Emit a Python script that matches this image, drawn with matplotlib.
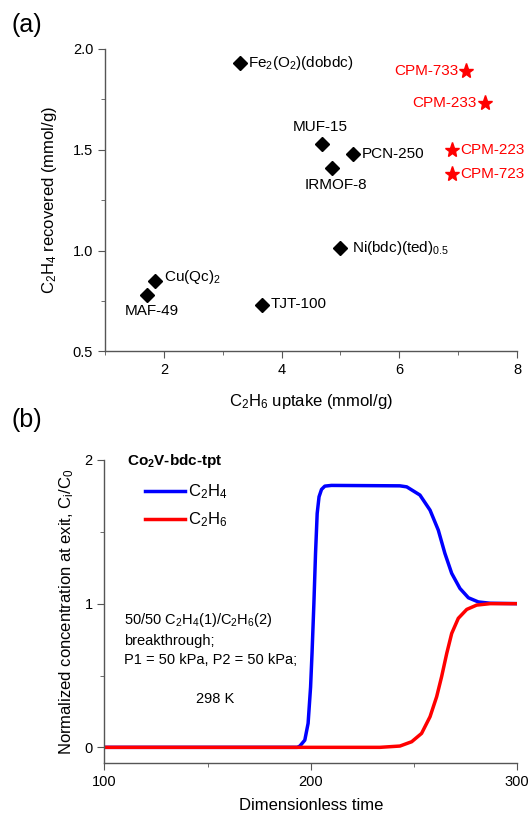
import matplotlib
matplotlib.use('Agg')
import matplotlib.pyplot as plt
from matplotlib.ticker import MultipleLocator, FormatStrFormatter

plt.rcParams['font.family'] = ['Liberation Sans', 'DejaVu Sans']
plt.rcParams['mathtext.fontset'] = 'custom'
plt.rcParams['mathtext.rm'] = 'Liberation Sans'
plt.rcParams['mathtext.it'] = 'Liberation Sans:italic'
plt.rcParams['mathtext.bf'] = 'Liberation Sans:bold'
plt.rcParams['mathtext.default'] = 'regular'

# (a) literature MOFs
mof_names = [r'Fe$_2$(O$_2$)(dobdc)', 'MUF-15', 'PCN-250', 'IRMOF-8',
             r'Ni(bdc)(ted)$_{0.5}$', r'Cu(Qc)$_2$', 'MAF-49', 'TJT-100']
mof_uptake = [3.30, 4.69, 5.21, 4.86, 5.00, 1.85, 1.72, 3.66]
mof_recovered = [1.93, 1.53, 1.48, 1.41, 1.01, 0.85, 0.78, 0.73]

# (a) CPM series
cpm_names = ['CPM-733', 'CPM-233', 'CPM-223', 'CPM-723']
cpm_uptake = [7.13, 7.45, 6.90, 6.90]
cpm_recovered = [1.89, 1.73, 1.50, 1.38]

# (b) breakthrough curves, Co2V-bdc-tpt
t_c2h4 = [100, 193.5, 194.7, 197.1, 198.7, 199.9, 200.6, 201.5, 202.3, 203.1, 204.0,
          205.2, 206.8, 210.0, 243.2, 246.5, 252.9, 257.8, 261.8, 265.0, 268.3,
          272.3, 276.4, 281.2, 286.9, 300]
c_c2h4 = [0, 0, 0.009, 0.05, 0.167, 0.42, 0.654, 1.0, 1.35, 1.628, 1.744,
          1.795, 1.818, 1.823, 1.82, 1.813, 1.756, 1.651, 1.512, 1.35, 1.211,
          1.106, 1.041, 1.012, 1.003, 1.0]
t_c2h6 = [100, 233.5, 243.2, 248.9, 253.7, 257.8, 261.0, 263.4, 265.9, 268.3,
          271.5, 275.6, 280.4, 286.9, 300]
c_c2h6 = [0, 0, 0.009, 0.039, 0.097, 0.213, 0.352, 0.491, 0.654, 0.793,
          0.898, 0.96, 0.99, 1.0, 1.0]

# label offsets in pixels (dx, dy, ha)
mof_offsets = [(8, 0, 'left'), (-2, 17, 'center'), (9, 0, 'left'), (4, -17, 'center'),
               (12, 0, 'left'), (9, 4, 'left'), (4, -16, 'center'), (9, 1, 'left')]
cpm_offsets = [(-7, 0, 'right'), (-8, 0, 'right'), (8, 0, 'left'), (8, 0, 'left')]

fig = plt.figure(figsize=(5.29, 8.16), dpi=100)
ax1 = fig.add_axes([0.1985, 0.5695, 0.7788, 0.3705])
ax2 = fig.add_axes([0.1975, 0.0653, 0.7800, 0.3710])

for ax in (ax1, ax2):
    for s in ('top', 'right'):
        ax.spines[s].set_visible(False)
    for s in ('left', 'bottom'):
        ax.spines[s].set_color('#555555')
        ax.spines[s].set_linewidth(1.0)
    ax.tick_params(which='both', direction='out', colors='#555555', labelcolor='black',
                   labelsize=10.5)
    ax.tick_params(which='major', length=5)
    ax.tick_params(which='minor', length=3)

# panel (a)
ax1.plot(mof_uptake, mof_recovered, 'D', color='black', ms=6.8, ls='none')
ax1.plot(cpm_uptake, cpm_recovered, '*', color='red', ms=11, ls='none')
for name, x, y, (dx, dy, ha) in zip(mof_names, mof_uptake, mof_recovered, mof_offsets):
    ax1.annotate(name, (x, y), xytext=(dx, dy), textcoords='offset pixels',
                 ha=ha, va='center', fontsize=11, color='black')
for name, x, y, (dx, dy, ha) in zip(cpm_names, cpm_uptake, cpm_recovered, cpm_offsets):
    ax1.annotate(name, (x, y), xytext=(dx, dy), textcoords='offset pixels',
                 ha=ha, va='center', fontsize=11, color='red')
ax1.set_xlim(1, 8)
ax1.set_ylim(0.5, 2.0)
ax1.xaxis.set_major_locator(MultipleLocator(2))
ax1.xaxis.set_minor_locator(MultipleLocator(1))
ax1.yaxis.set_major_locator(MultipleLocator(0.5))
ax1.yaxis.set_minor_locator(MultipleLocator(0.25))
ax1.yaxis.set_major_formatter(FormatStrFormatter('%.1f'))
ax1.set_xlabel(r'C$_2$H$_6$ uptake (mmol/g)', fontsize=12, labelpad=11)
ax1.set_ylabel(r'C$_2$H$_4$ recovered (mmol/g)', fontsize=12, labelpad=10)
fig.text(0.022, 0.969, '(a)', fontsize=18, ha='left', va='center')

# panel (b)
ax2.plot(t_c2h4, c_c2h4, color='blue', lw=2.5, label=r'C$_2$H$_4$')
ax2.plot(t_c2h6, c_c2h6, color='red', lw=2.5, label=r'C$_2$H$_6$')
ax2.set_xlim(100, 300)
ax2.set_ylim(-0.107, 2.0)
ax2.xaxis.set_major_locator(MultipleLocator(100))
ax2.xaxis.set_minor_locator(MultipleLocator(50))
ax2.yaxis.set_major_locator(MultipleLocator(1))
ax2.yaxis.set_minor_locator(MultipleLocator(0.5))
ax2.set_xlabel('Dimensionless time', fontsize=12, labelpad=7)
ax2.set_ylabel(r'Normalized concentration at exit, C$_i$/C$_0$', fontsize=12, labelpad=6)
ax2.legend(loc='upper left', bbox_to_anchor=(0.097, 0.925), frameon=False, fontsize=12,
           handlelength=2.4, handletextpad=0.2, labelspacing=0.55, borderaxespad=0,
           borderpad=0)
ax2.text(110.9, 1.994, r'Co$_\mathbf{2}$V-bdc-tpt', fontsize=11, fontweight='bold',
         va='center', ha='left')
ax2.text(109.6, 0.95, '50/50 C$_2$H$_4$(1)/C$_2$H$_6$(2)\nbreakthrough;\nP1 = 50 kPa, P2 = 50 kPa;',
         fontsize=10.5, va='top', ha='left', linespacing=1.45)
ax2.text(144.5, 0.339, '298 K', fontsize=10.5, va='center', ha='left')
fig.text(0.022, 0.485, '(b)', fontsize=18, ha='left', va='center')

fig.savefig('out.png', dpi=100)
